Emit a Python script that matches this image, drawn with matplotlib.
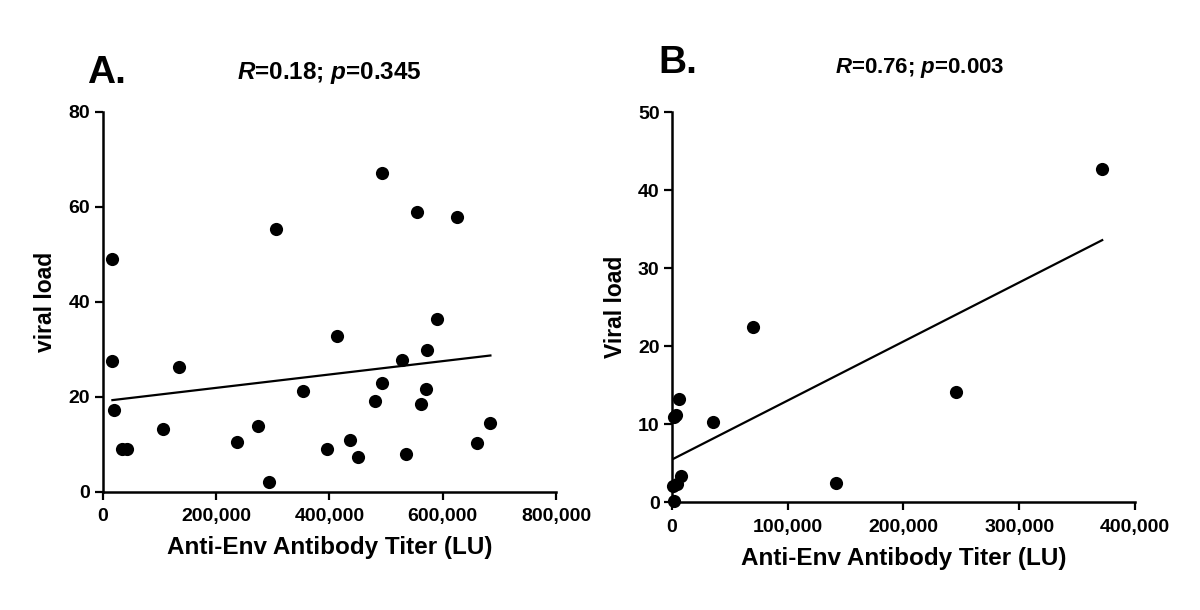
import numpy as np
import matplotlib
matplotlib.use('Agg')
import matplotlib.pyplot as plt
from matplotlib.ticker import FuncFormatter

plt.rcParams['font.family'] = ['Liberation Sans', 'DejaVu Sans']
plt.rcParams['font.weight'] = 'bold'
plt.rcParams['mathtext.fontset'] = 'custom'
plt.rcParams['mathtext.rm'] = 'Liberation Sans:bold'
plt.rcParams['mathtext.it'] = 'Liberation Sans:italic:bold'
plt.rcParams['mathtext.bf'] = 'Liberation Sans:bold'

# panel A: anti-Env titer vs viral load
titer_a = [17100, 17100, 19100, 34000, 42000, 106600, 134400, 236900, 274200,
           293200, 306100, 354200, 395000, 413400, 437000, 450700, 481100,
           492000, 493400, 527300, 534800, 554500, 561300, 570100, 571400,
           589100, 624300, 659600, 684100]
load_a = [49.0, 27.5, 17.2, 9.1, 9.1, 13.3, 26.3, 10.5, 13.9,
          2.0, 55.3, 21.2, 9.0, 32.9, 10.8, 7.4, 19.1,
          67.1, 23.0, 27.7, 7.9, 59.0, 18.4, 21.7, 29.8,
          36.4, 57.8, 10.3, 14.4]
fit_a_x = [17100, 684100]
fit_a_y = [19.3, 28.7]

# panel B
titer_b = [371700, 69700, 245100, 142100, 35000, 5700, 1500, 3800, 8100,
           4600, 870, 1700]
load_b = [42.7, 22.5, 14.1, 2.5, 10.3, 13.2, 10.9, 11.2, 3.4,
          2.3, 2.1, 0.1]
fit_b_x = [600, 371700]
fit_b_y = [5.5, 33.6]

xticks_a = [0, 200000, 400000, 600000, 800000]
yticks_a = [0, 20, 40, 60, 80]
xticks_b = [0, 100000, 200000, 300000, 400000]
yticks_b = [0, 10, 20, 30, 40, 50]

fig = plt.figure(figsize=(12, 6.1), dpi=100)
ax_a = fig.add_axes([0.0856, 0.1939, 0.3778, 0.6225])
ax_b = fig.add_axes([0.5600, 0.1770, 0.3858, 0.6389])

comma = FuncFormatter(lambda v, pos: "{:,}".format(int(v)))


def style(ax, xt, yt):
    ax.set_xlim(xt[0], xt[-1])
    ax.set_ylim(yt[0], yt[-1])
    ax.set_xticks(xt)
    ax.set_yticks(yt)
    ax.xaxis.set_major_formatter(comma)
    for s in ['top', 'right']:
        ax.spines[s].set_visible(False)
    for s in ['left', 'bottom']:
        ax.spines[s].set_linewidth(1.8)
    ax.tick_params(direction='out', length=6, width=1.6, labelsize=14, pad=3)
    ax.tick_params(axis='x', pad=6)
    for lab in ax.get_xticklabels() + ax.get_yticklabels():
        lab.set_fontweight('bold')


for ax, x, y, fx, fy, xt, yt, ylab in [
        (ax_a, titer_a, load_a, fit_a_x, fit_a_y, xticks_a, yticks_a, "viral load"),
        (ax_b, titer_b, load_b, fit_b_x, fit_b_y, xticks_b, yticks_b, "Viral load")]:
    ax.scatter(x, y, s=90, color='black', zorder=3, clip_on=False, linewidths=0)
    ax.plot(fx, fy, color='black', lw=1.6, zorder=2)
    style(ax, xt, yt)
    ax.set_xlabel("Anti-Env Antibody Titer (LU)", fontsize=17.5, fontweight='bold', labelpad=8)
    ax.set_ylabel(ylab, fontsize=16.5, fontweight='bold', labelpad=8)

# panel letters and stats
fig.text(87 / 1200, 1 - 83 / 610, "A.", fontsize=28, fontweight='bold', ha='left', va='baseline')
fig.text(329 / 1200, 1 - 79 / 610, r"$\mathit{R}$=0.18; $\mathit{p}$=0.345",
         fontsize=17.5, fontweight='bold', ha='center', va='baseline')
fig.text(658 / 1200, 1 - 73 / 610, "B.", fontsize=28, fontweight='bold', ha='left', va='baseline')
fig.text(920 / 1200, 1 - 73 / 610, r"$\mathit{R}$=0.76; $\mathit{p}$=0.003",
         fontsize=16, fontweight='bold', ha='center', va='baseline')

fig.savefig("out.png", dpi=100)
